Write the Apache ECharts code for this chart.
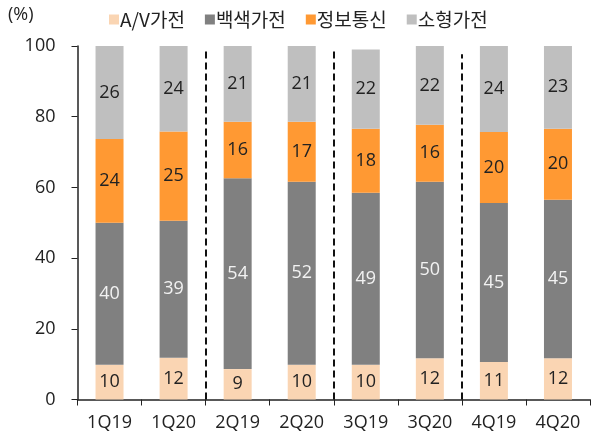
<!DOCTYPE html>
<html>
<head>
<meta charset="utf-8">
<script src="https://cdn.jsdelivr.net/npm/echarts@6/dist/echarts.min.js"></script>
<style>html,body{margin:0;padding:0;background:#fff}#c{width:594px;height:436px}</style>
</head>
<body>
<div id="c"></div>
<script>
var categories = ['1Q19','1Q20','2Q19','2Q20','3Q19','3Q20','4Q19','4Q20'];
var seriesNames = ['A/V가전','백색가전','정보통신','소형가전'];
var avData    = [9.8, 11.8, 8.6, 9.8, 9.8, 11.7, 10.6, 11.7];
var whiteData = [40.2, 38.8, 54.0, 51.8, 48.7, 49.9, 45.0, 44.8];
var infoData  = [23.7, 25.2, 16.0, 17.0, 18.1, 16.1, 20.1, 20.1];
var smallData = [26.3, 24.2, 21.4, 21.4, 22.4, 22.3, 24.3, 23.4];
var yTicks = [0, 20, 40, 60, 80, 100];
var dividerPositions = [2, 4, 6];
var dividerTops = [99.4, 99, 97.7];

var FONT = '"Open Sans", "Noto Sans CJK KR", sans-serif';
var KFONT = '"Noto Sans CJK KR", "Open Sans", sans-serif';
var colors = ['#FAD5B3', '#808080', '#FF9933', '#BFBFBF'];
var labelColors = ['#222', '#f2f2f2', '#222', '#222'];
var datas = [avData, whiteData, infoData, smallData];

var series = datas.map(function (d, i) {
  return {
    name: seriesNames[i],
    type: 'bar',
    stack: 'total',
    barWidth: 28,
    data: d,
    itemStyle: { color: colors[i] },
    label: {
      show: true,
      position: 'inside',
      color: labelColors[i],
      fontSize: 18,
      fontFamily: FONT,
      formatter: function (p) { return Math.round(p.value); }
    }
  };
});

series.push({
  type: 'scatter',
  xAxisIndex: 1,
  data: [],
  silent: true,
  markLine: {
    symbol: 'none',
    silent: true,
    label: { show: false },
    lineStyle: { color: '#111', width: 2, type: [7, 4] },
    data: dividerPositions.map(function (x, i) {
      return [{ coord: [x, 0] }, { coord: [x, dividerTops[i]] }];
    })
  }
});

var chart = echarts.init(document.getElementById('c'), null, { renderer: 'canvas' });
chart.setOption({
  animation: false,
  color: colors,
  grid: { left: 77.5, right: 4, top: 46, bottom: 36.5, containLabel: false },
  legend: {
    data: seriesNames,
    top: 5,
    left: 104,
    itemWidth: 10,
    itemHeight: 10,
    itemGap: 20,
    icon: 'rect',
    textStyle: { fontSize: 19, fontFamily: KFONT, color: '#222', padding: [0, 0, 0, -4], width: 77 }
  },
  graphic: [{
    type: 'text', left: 8, top: 6,
    style: { text: '(%)', font: '18px ' + FONT, fill: '#222' }
  }],
  xAxis: [{
    type: 'category',
    data: categories,
    axisLine: { lineStyle: { color: '#222', width: 1.5 } },
    axisTick: { show: true, length: 6, lineStyle: { color: '#222' } },
    axisLabel: { fontSize: 18, fontFamily: FONT, color: '#222', margin: 14 }
  }, {
    type: 'value', min: 0, max: 8, show: false
  }],
  yAxis: {
    type: 'value',
    min: 0, max: 100, interval: 20,
    axisLine: { show: true, lineStyle: { color: '#222', width: 1.5 } },
    axisTick: { show: true, length: 6, lineStyle: { color: '#222' } },
    splitLine: { show: false },
    axisLabel: { fontSize: 18, fontFamily: FONT, color: '#222', margin: 22 }
  },
  series: series
});
</script>
</body>
</html>
